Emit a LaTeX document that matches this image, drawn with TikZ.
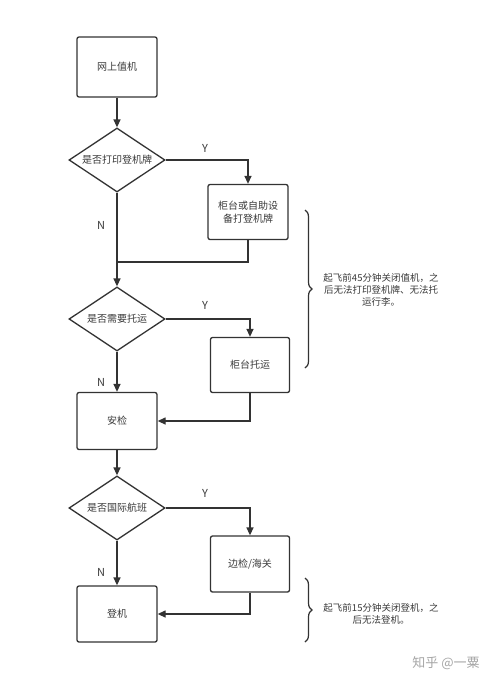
\documentclass[tikz,border=0pt]{standalone}
\usepackage{fontspec}
\setmainfont{Noto Sans CJK SC}
\usetikzlibrary{arrows.meta,shapes.geometric,decorations.pathreplacing}
\definecolor{ln}{HTML}{333333}
\definecolor{tx}{HTML}{3A3A3A}
\tikzset{
  box/.style={draw=ln,line width=1.3pt,rounded corners=2pt,minimum width=80pt,text=tx,font=\fontsize{10}{13}\selectfont,align=center,inner sep=0pt},
  dec/.style={draw=ln,line width=1.3pt,diamond,aspect=1.5,minimum width=96pt,minimum height=64pt,inner sep=0pt,text=tx,font=\fontsize{10}{13}\selectfont},
  conn/.style={draw=ln,line width=1.3pt,-{Triangle[length=8pt,width=7pt]}},
  plain/.style={draw=ln,line width=1.3pt},
  lbl/.style={text=tx,font=\fontsize{11}{13}\selectfont,inner sep=0pt},
  note/.style={text=tx,font=\fontsize{9.5}{12}\selectfont,align=center,inner sep=0pt},
  brc/.style={draw=ln,line width=1.2pt,decorate,decoration={brace,amplitude=7pt}}
}
\begin{document}
\begin{tikzpicture}[x=1pt,y=-1pt]
\useasboundingbox[fill=white] (0,0) rectangle (500,691);
\node[box,minimum height=60pt] (n1) at (117,67) {网上值机};
\node[dec] (d1) at (117,160) {是否打印登机牌};
\node[box,minimum height=55pt] (b2) at (248,212) {柜台或自助设\\备打登机牌};
\coordinate (m1) at (117,262);
\node[dec] (d2) at (117,319) {是否需要托运};
\node[box,minimum width=79pt,minimum height=55pt] (b3) at (250,365) {柜台托运};
\node[box,minimum height=57pt] (n4) at (117,421) {安检};
\node[dec] (d3) at (117,508) {是否国际航班};
\node[box,minimum width=79pt,minimum height=56pt] (b5) at (250,564) {边检/海关};
\node[box,minimum height=56pt] (n6) at (117,614) {登机};

\draw[conn] (n1) -- (d1);
\draw[conn] (d1.east) -| (b2.north);
\draw[conn] (d1.south) -- (d2.north);
\draw[plain] (b2.south) |- (m1);
\draw[conn] (d2.east) -| (b3.north);
\draw[conn] (d2.south) -- (n4.north);
\draw[conn] (b3.south) |- (n4.east);
\draw[conn] (n4) -- (d3);
\draw[conn] (d3.east) -| (b5.north);
\draw[conn] (d3.south) -- (n6.north);
\draw[conn] (b5.south) |- (n6.east);

\node[lbl] (y1) at (205,148) {Y};
\node[lbl] (nn1) at (101,225) {N};
\node[lbl] (y2) at (205,305) {Y};
\node[lbl] (nn2) at (101,382) {N};
\node[lbl] (y3) at (205,493) {Y};
\node[lbl] (nn3) at (101,572) {N};

\coordinate (bt1) at (305,210);
\coordinate (bb1) at (305,368);
\draw[brc] (bt1) -- (bb1);
\node[note] (t1) at (381,290) {起飞前45分钟关闭值机，之\\后无法打印登机牌、无法托\\运行李。};
\coordinate (bt2) at (305,578);
\coordinate (bb2) at (305,642);
\draw[brc] (bt2) -- (bb2);
\node[note] (t2) at (381,614) {起飞前15分钟关闭登机，之\\后无法登机。};

\node[text=black!35,font=\fontsize{13}{15}\selectfont,inner sep=0pt] (wm) at (446,663) {知乎 @一粟};
\end{tikzpicture}
\end{document}
